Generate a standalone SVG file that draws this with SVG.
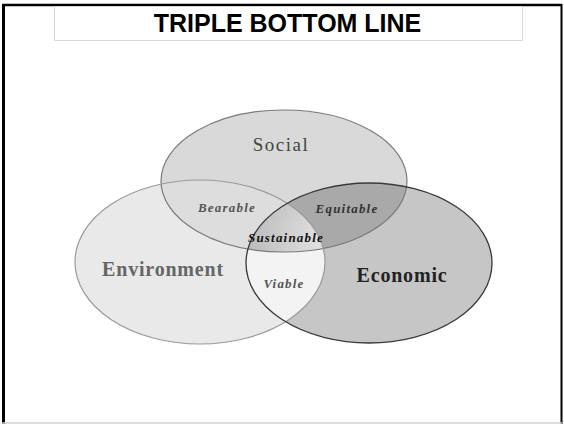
<svg xmlns="http://www.w3.org/2000/svg" width="564" height="424" viewBox="0 0 564 424">
<style>
.lbl{font-family:"Liberation Serif","Times New Roman",serif;}
.big{font-size:20px;font-weight:bold;letter-spacing:0.8px;}
.sm{font-size:13px;font-style:italic;font-weight:bold;letter-spacing:1.2px;}
</style>
<defs>
<clipPath id="cS"><ellipse cx="284" cy="181" rx="123" ry="71"/></clipPath>
<clipPath id="cE"><ellipse cx="200" cy="262" rx="125" ry="82"/></clipPath>
<clipPath id="cC"><ellipse cx="369" cy="263" rx="123" ry="80"/></clipPath>
<radialGradient id="gSus" cx="0.55" cy="0.35" r="0.7">
<stop offset="0" stop-color="#ffffff"/>
<stop offset="1" stop-color="#a8a8a8"/>
</radialGradient>
</defs>
<g id="frame">
<rect x="0" y="0" width="564" height="424" fill="#fff"/>
<line x1="2" y1="5" x2="562" y2="5" stroke="#000" stroke-width="2.5"/>
<line x1="3.5" y1="4" x2="3.5" y2="424" stroke="#000" stroke-width="3"/>
<line x1="561.5" y1="4" x2="561.5" y2="424" stroke="#000" stroke-width="2"/>
<line x1="2" y1="423" x2="562" y2="423" stroke="#d0d0d0" stroke-width="1.5"/>
</g>
<g id="title">
<rect x="54.5" y="6.5" width="468" height="34" fill="#fff" stroke="#d8d8d8" stroke-width="1"/>
<text x="287.5" y="32" text-anchor="middle" font-family="Liberation Sans,Arial,sans-serif" font-weight="bold" font-size="25">TRIPLE BOTTOM LINE</text>
</g>
<g id="social"><ellipse cx="284" cy="181" rx="123" ry="71" fill="#d9d9d9"/></g>
<g id="environment"><ellipse cx="200" cy="262" rx="125" ry="82" fill="#e9e9e9"/></g>
<g id="economic"><ellipse cx="369" cy="263" rx="123" ry="80" fill="#c6c6c6"/></g>
<g id="bearable"><g clip-path="url(#cS)"><ellipse cx="200" cy="262" rx="125" ry="82" fill="#dddddd"/></g></g>
<g id="equitable"><g clip-path="url(#cS)"><ellipse cx="369" cy="263" rx="123" ry="80" fill="#a9a9a9"/></g></g>
<g id="viable"><g clip-path="url(#cE)"><ellipse cx="369" cy="263" rx="123" ry="80" fill="#f3f3f3"/></g></g>
<g id="sustainable"><g clip-path="url(#cS)"><g clip-path="url(#cE)"><ellipse cx="369" cy="263" rx="123" ry="80" fill="url(#gSus)"/></g></g></g>
<g id="outlines" fill="none">
<ellipse cx="284" cy="181" rx="123" ry="71" stroke="#7a7a7a" stroke-width="1.2"/>
<ellipse cx="200" cy="262" rx="125" ry="82" stroke="#9a9a9a" stroke-width="1.2"/>
<ellipse cx="369" cy="263" rx="123" ry="80" stroke="#3a3a3a" stroke-width="1.3"/>
</g>
<g id="labels" class="lbl">
<text x="281" y="151" text-anchor="middle" fill="#444" font-size="19" letter-spacing="1.5">Social</text>
<text x="163" y="276" class="big" text-anchor="middle" fill="#666">Environment</text>
<text x="402" y="282" class="big" text-anchor="middle" fill="#222">Economic</text>
<text x="227" y="212" class="sm" text-anchor="middle" fill="#555">Bearable</text>
<text x="347" y="213" class="sm" text-anchor="middle" fill="#333">Equitable</text>
<text x="286" y="242" class="sm" text-anchor="middle" fill="#111" letter-spacing="0">Sustainable</text>
<text x="284" y="288" class="sm" text-anchor="middle" fill="#555">Viable</text>
</g>
</svg>
